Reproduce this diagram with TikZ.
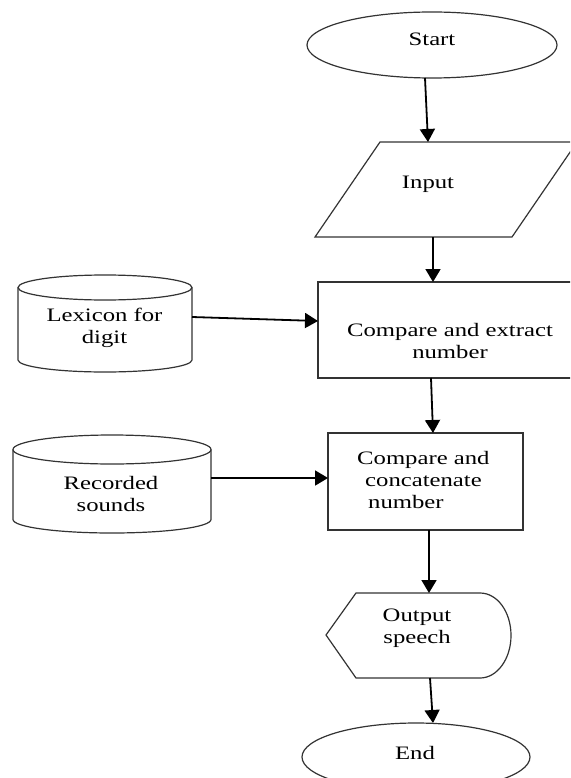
\documentclass[tikz,border=0pt]{standalone}
\usepackage{fontspec}
\setmainfont{Liberation Serif}[FakeStretch=1.3]
\usetikzlibrary{arrows.meta,shapes.geometric}
\begin{document}
\begin{tikzpicture}[x=1pt,y=-1pt,
  outline/.style={draw=black!80,line width=1.2pt},
  flow/.style={draw=black,line width=1.8pt,-{Triangle[width=15pt,length=13pt]}},
  label/.style={inner sep=0pt,align=center,font=\fontsize{19}{22}\selectfont}]
\clip (0,0) rectangle (570,778);
\fill[white] (0,0) rectangle (570,778);
% Start
\node[outline,ellipse,minimum width=250pt,minimum height=66pt,inner sep=0pt] (start) at (432,45) {};
\node[label] (starttxt) at (432,39.5) {Start};
% Input
\draw[outline] (380,142) -- (577,142) -- (512,237) -- (315,237) -- cycle;
\node[label] (input) at (428,184) {Input};
% Compare and extract
\node[outline,rectangle,minimum width=264pt,minimum height=96pt,inner sep=0pt] (box1) at (450,330) {};
\node[label] (box1txt) at (450,340.5) {Compare and extract\\number};
% Lexicon cylinder
\draw[outline] (105,287.5) ellipse [x radius=87,y radius=12.5];
\draw[outline] (18,287.5) -- (18,360) .. controls (18,366.6) and (57,372) .. (105,372)
  .. controls (153,372) and (192,366.6) .. (192,360) -- (192,287.5);
\node[label] (lex) at (104.5,328) {Lexicon for\\digit};
% Compare and concatenate
\node[outline,rectangle,minimum width=195pt,minimum height=97pt,inner sep=0pt] (box2) at (425.5,481.5) {};
\node[label,align=left,anchor=west] (box2txt) at (357,479.5) {Compare and\\\hspace*{8pt}concatenate\\\hspace*{11pt}number};
% Recorded cylinder
\draw[outline] (112,449.5) ellipse [x radius=99,y radius=14.5];
\draw[outline] (13,449.5) -- (13,519.5) .. controls (13,527) and (57.3,533) .. (112,533)
  .. controls (166.7,533) and (211,527) .. (211,519.5) -- (211,449.5);
\node[label] (rec) at (111,493.5) {Recorded\\sounds};
% Output speech
\draw[outline] (326,635) -- (356,593) -- (480,593)
  .. controls (497.1,593) and (511,611.5) .. (511,635.5)
  .. controls (511,659) and (497.1,678) .. (480,678) -- (356,678) -- cycle;
\node[label] (out) at (417,628.5) {Output\\speech};
% End
\node[outline,ellipse,minimum width=228pt,minimum height=68pt,inner sep=0pt] (end) at (416,757) {};
\node[label] (endtxt) at (415,752.5) {End};
% connector end points
\coordinate (a1s) at (425,78);   \coordinate (a1e) at (428,142);
\coordinate (a2s) at (433,237);  \coordinate (a2e) at (433,282);
\coordinate (a3s) at (192,317);  \coordinate (a3e) at (318,321);
\coordinate (a4s) at (431,378);  \coordinate (a4e) at (433,433);
\coordinate (a5s) at (211,478);  \coordinate (a5e) at (328,478);
\coordinate (a6s) at (429,530);  \coordinate (a6e) at (429,593);
\coordinate (a7s) at (430,678);  \coordinate (a7e) at (433,723);
\draw[flow] (a1s) -- (a1e);
\draw[flow] (a2s) -- (a2e);
\draw[flow] (a3s) -- (a3e);
\draw[flow] (a4s) -- (a4e);
\draw[flow] (a5s) -- (a5e);
\draw[flow] (a6s) -- (a6e);
\draw[flow] (a7s) -- (a7e);
\end{tikzpicture}
\end{document}
